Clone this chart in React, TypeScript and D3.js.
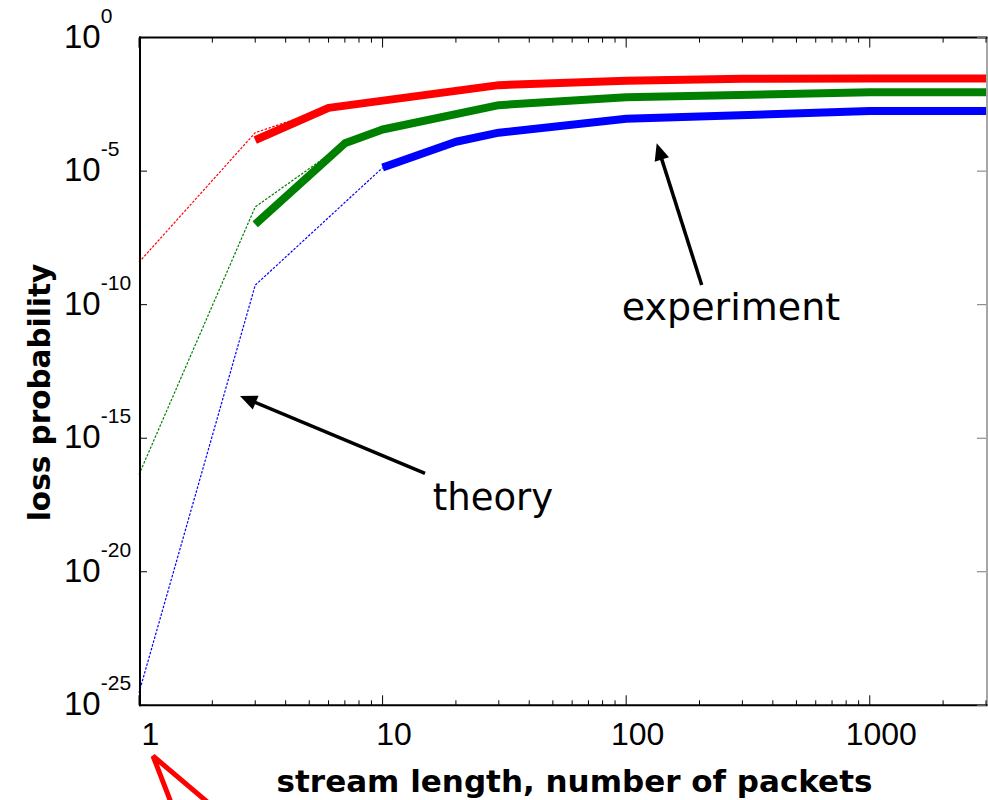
import React from "react";
import * as d3 from "d3";

// x values (stream length) and log10 loss probabilities
const theoryRedX = [1, 3, 6];
const theoryRedLog = [-8.41, -3.56, -2.63];
const theoryGreenX = [1, 3, 7];
const theoryGreenLog = [-16.36, -6.34, -3.96];
const theoryBlueX = [1, 3, 10];
const theoryBlueLog = [-24.53, -9.27, -4.87];

const expRedX = [3, 6, 30, 100, 300, 1000, 3000];
const expRedLog = [-3.84, -2.63, -1.78, -1.62, -1.54, -1.53, -1.53];
const expGreenX = [3, 7, 10, 30, 100, 1000, 3000];
const expGreenLog = [-6.99, -3.96, -3.44, -2.53, -2.23, -2.05, -2.05];
const expBlueX = [10, 20, 30, 100, 1000, 3000];
const expBlueLog = [-4.86, -3.9, -3.56, -3.04, -2.75, -2.75];

const xTickValues = [1, 10, 100, 1000];
const xTickLabels = ["1", "10", "100", "1000"];
const yTickExps = [0, -5, -10, -15, -20, -25];

const xTitle = "stream length, number of packets";
const yTitle = "loss probability";
const expLabel = "experiment";
const theoryLabel = "theory";

const W = 988;
const H = 800;
const L = 139;
const R = 986;
const T = 37.6;
const B = 705.3;

export default function App() {
  const x = d3.scaleLog().domain([1, 3000]).range([L, R]);
  const y = d3.scaleLog().domain([1e-25, 1]).range([B, T]);
  const line = d3
    .line<[number, number]>()
    .x((d) => x(d[0]))
    .y((d) => y(Math.pow(10, d[1])));

  const zip = (xs: number[], ls: number[]) =>
    xs.map((v, i) => [v, ls[i]] as [number, number]);

  const minorX: number[] = [];
  for (let k = 0; k <= 3; k++) {
    for (let m = 2; m <= 9; m++) {
      const v = m * Math.pow(10, k);
      if (v <= 3000) minorX.push(v);
    }
  }

  const arrow = (x1: number, y1: number, x2: number, y2: number) => {
    const dx = x2 - x1;
    const dy = y2 - y1;
    const len = Math.sqrt(dx * dx + dy * dy);
    const ux = dx / len;
    const uy = dy / len;
    const hl = 17;
    const hw = 7.5;
    const bx = x2 - ux * hl;
    const by = y2 - uy * hl;
    const pts = [
      [x2, y2],
      [bx - uy * hw, by + ux * hw],
      [bx + uy * hw, by - ux * hw],
    ];
    return (
      <g>
        <line x1={x1} y1={y1} x2={bx + ux * 2} y2={by + uy * 2} stroke="#000" strokeWidth={3.5} />
        <polygon points={pts.map((p) => p.join(",")).join(" ")} fill="#000" />
      </g>
    );
  };

  const theories = [
    { d: zip(theoryRedX, theoryRedLog), c: "#ff0000" },
    { d: zip(theoryGreenX, theoryGreenLog), c: "#008000" },
    { d: zip(theoryBlueX, theoryBlueLog), c: "#0000ff" },
  ];
  const exps = [
    { d: zip(expRedX, expRedLog), c: "#ff0000" },
    { d: zip(expGreenX, expGreenLog), c: "#008000" },
    { d: zip(expBlueX, expBlueLog), c: "#0000ff" },
  ];

  return (
    <svg
      width={W}
      height={H}
      style={{ position: "absolute", left: 0, top: 0, background: "#fff" }}
    >
      <rect x={0} y={0} width={W} height={H} fill="#fff" />
      {theories.map((s, i) => (
        <path
          key={"t" + i}
          d={line(s.d) || ""}
          fill="none"
          stroke={s.c}
          strokeWidth={1.2}
          strokeDasharray="2.5,1.5"
        />
      ))}
      {exps.map((s, i) => (
        <path
          key={"e" + i}
          d={line(s.d) || ""}
          fill="none"
          stroke={s.c}
          strokeWidth={8}
          strokeLinejoin="round"
        />
      ))}

      <line x1={R + 1} y1={T} x2={R + 1} y2={B} stroke="#888" strokeWidth={1.5} />
      <line x1={L} y1={T} x2={R + 1.5} y2={T} stroke="#000" strokeWidth={2} />
      <line x1={L} y1={B} x2={R + 1.5} y2={B} stroke="#000" strokeWidth={2} />
      <line x1={L + 1} y1={T - 1} x2={L + 1} y2={B + 1} stroke="#000" strokeWidth={2} />

      {minorX.map((v) => (
        <g key={"mx" + v}>
          <line x1={x(v)} x2={x(v)} y1={T} y2={T + 5} stroke="#000" strokeWidth={1} />
          <line x1={x(v)} x2={x(v)} y1={B} y2={B - 5} stroke="#000" strokeWidth={1} />
        </g>
      ))}
      {xTickValues.map((v) => (
        <g key={"Mx" + v}>
          <line x1={x(v)} x2={x(v)} y1={T} y2={T + 10} stroke="#000" strokeWidth={1} />
          <line x1={x(v)} x2={x(v)} y1={B} y2={B - 10} stroke="#000" strokeWidth={1} />
        </g>
      ))}
      {xTickValues.map((v, i) => (
        <text
          key={"xl" + v}
          x={x(v) + 11.5}
          y={745}
          textAnchor="middle"
          fontFamily="Liberation Sans, Arial, sans-serif"
          fontSize={32}
          fill="#000"
        >
          {xTickLabels[i]}
        </text>
      ))}

      {yTickExps.map((e) => {
        const yy = y(Math.pow(10, e));
        return (
          <g key={"y" + e}>
            <line x1={L} x2={L + 8} y1={yy} y2={yy} stroke="#000" strokeWidth={1} />
            <line x1={R} x2={R - 9} y1={yy} y2={yy} stroke="#777" strokeWidth={1} />
            <text
              x={64}
              y={yy + 10}
              fontFamily="Liberation Sans, Arial, sans-serif"
              fontSize={33}
              fill="#000"
            >
              <tspan>10</tspan>
              <tspan dy={-25} fontSize={21}>
                {String(e)}
              </tspan>
            </text>
          </g>
        );
      })}

      <text
        x={(272 + 877) / 2}
        y={792}
        textAnchor="middle"
        fontFamily="DejaVu Sans, Verdana, sans-serif"
        fontWeight="bold"
        fontSize={31}
        fill="#000"
      >
        {xTitle}
      </text>
      <text
        transform={`translate(50,${(263 + 522) / 2}) rotate(-90)`}
        textAnchor="middle"
        fontFamily="DejaVu Sans, Verdana, sans-serif"
        fontWeight="bold"
        fontSize={29.5}
        fill="#000"
      >
        {yTitle}
      </text>

      {arrow(701.7, 285, 656.7, 143.3)}
      {arrow(425, 473.3, 240, 396)}
      <text
        x={731}
        y={320}
        textAnchor="middle"
        fontFamily="DejaVu Sans, Verdana, sans-serif"
        fontSize={38}
        fill="#000"
      >
        {expLabel}
      </text>
      <text
        x={493}
        y={510}
        textAnchor="middle"
        fontFamily="DejaVu Sans, Verdana, sans-serif"
        fontSize={37}
        fill="#000"
      >
        {theoryLabel}
      </text>

      <polygon
        points="153,756 189,849 257,844"
        fill="none"
        stroke="#ff0000"
        strokeWidth={5}
        strokeLinejoin="miter"
      />
    </svg>
  );
}
